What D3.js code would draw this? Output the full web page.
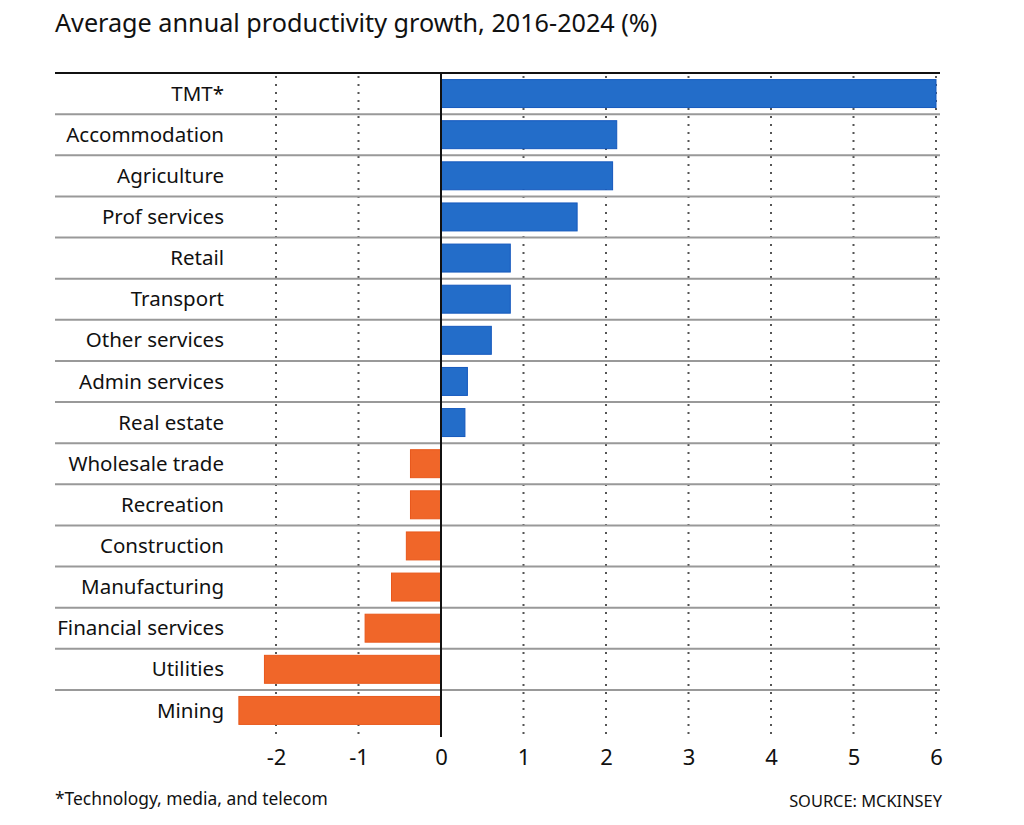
<!DOCTYPE html>
<html><head><meta charset="utf-8">
<script src="https://cdn.jsdelivr.net/npm/d3@7"></script>
<style>
html,body{margin:0;padding:0;background:#fff;}
svg text{font-family:"Noto Sans","Open Sans",sans-serif;fill:#111;}
</style></head>
<body>
<svg id="chart" width="1024" height="825"></svg>
<script>
const categories = ["TMT*","Accommodation","Agriculture","Prof services","Retail","Transport","Other services","Admin services","Real estate","Wholesale trade","Recreation","Construction","Manufacturing","Financial services","Utilities","Mining"];
const values = [6.0,2.13,2.08,1.65,0.84,0.84,0.61,0.32,0.29,-0.37,-0.37,-0.42,-0.6,-0.92,-2.14,-2.45];
const tickValues = [-2,-1,0,1,2,3,4,5,6];
const title = "Average annual productivity growth, 2016-2024 (%)";
const footnote = "*Technology, media, and telecom";
const source = "SOURCE: MCKINSEY";

const svg = d3.select("#chart");
const x = d3.scaleLinear().domain([-2,6]).range([276,936]);
const y = d3.scaleBand().domain(categories).range([73,731]).paddingInner(0.32).paddingOuter(0.16);
const step = y.step();

svg.append("text").attr("x",55).attr("y",32).attr("font-size",25.2).text(title);

// gridlines (dotted)
svg.append("g").selectAll("line").data(tickValues.filter(d=>d!==0)).join("line")
  .attr("x1",d=>x(d)).attr("x2",d=>x(d)).attr("y1",76).attr("y2",737)
  .attr("stroke","#555").attr("stroke-width",2).attr("stroke-dasharray","2,6");

// row separators
svg.append("g").selectAll("line").data(categories.slice(1)).join("line")
  .attr("x1",55).attr("x2",940)
  .attr("y1",d=>y(d)-y.paddingInner()*step/2).attr("y2",d=>y(d)-y.paddingInner()*step/2)
  .attr("stroke","#999").attr("stroke-width",2);

// top rule
svg.append("line").attr("x1",55).attr("x2",940).attr("y1",73).attr("y2",73).attr("stroke","#111").attr("stroke-width",2);

// bars
svg.append("g").selectAll("rect").data(categories).join("rect")
  .attr("x",(d,i)=>x(Math.min(0,values[i])))
  .attr("y",d=>y(d))
  .attr("width",(d,i)=>Math.abs(x(values[i])-x(0)))
  .attr("height",y.bandwidth())
  .attr("fill",(d,i)=>values[i]>=0?"#236DC9":"#F06629")
  .attr("stroke",(d,i)=>values[i]>=0?"#1458BD":"#E8581C")
  .attr("stroke-width",1);

// zero line
svg.append("line").attr("x1",x(0)).attr("x2",x(0)).attr("y1",73).attr("y2",737).attr("stroke","#111").attr("stroke-width",2);

// category labels
svg.append("g").selectAll("text").data(categories).join("text")
  .attr("x",224).attr("y",d=>y(d)+y.bandwidth()/2).attr("dy","0.35em")
  .attr("text-anchor","end").attr("font-size",20.5).text(d=>d);

// x axis tick labels
const axis = d3.axisBottom(x).tickValues(tickValues).tickSize(0).tickPadding(0).tickFormat(d=>String(d));
const gx = svg.append("g").attr("transform","translate(0,745)").call(axis);
gx.select(".domain").remove();
gx.selectAll("text").attr("font-size",22).attr("fill","#111").attr("dy","0.9em")
  .style("font-family",'"Noto Sans","Open Sans",sans-serif');

svg.append("text").attr("x",55).attr("y",805).attr("font-size",17.4).text(footnote);
svg.append("text").attr("x",942).attr("y",807).attr("font-size",16.4).attr("text-anchor","end").attr("fill","#222").text(source);
</script>
</body></html>
